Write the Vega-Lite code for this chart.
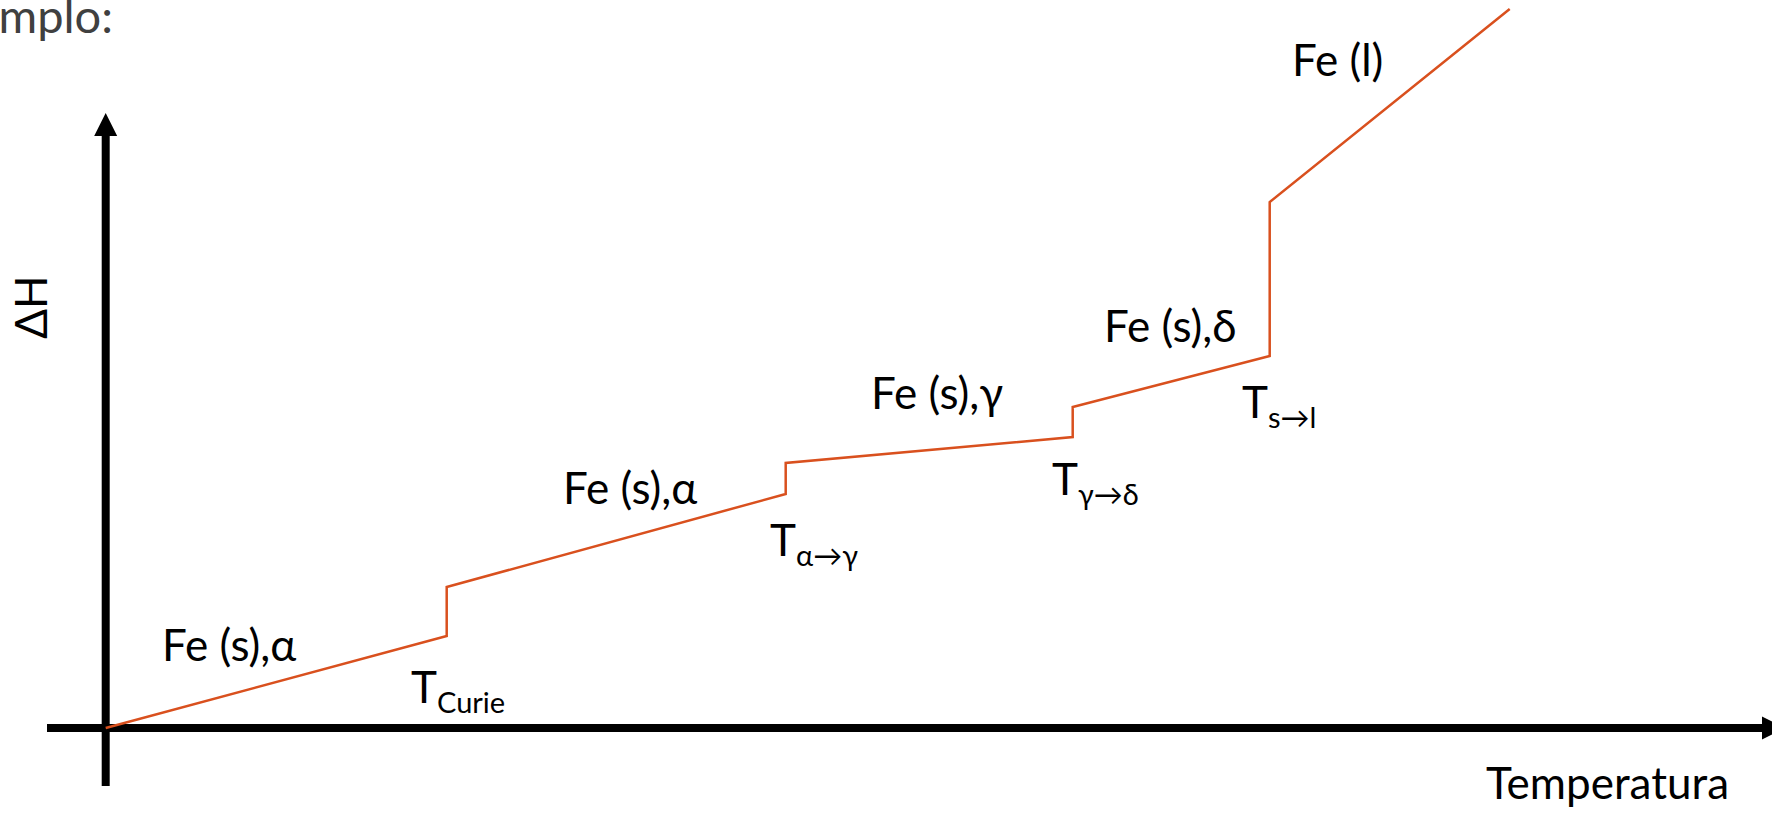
{
  "$schema": "https://vega.github.io/schema/vega-lite/v6.json",
  "width": 1772,
  "height": 813,
  "autosize": {"type": "none"},
  "padding": 0,
  "background": "white",
  "config": {"view": {"stroke": null}},
  "datasets": {
    "curve": [
      {"step": 1, "T": 0, "H": 0},
      {"step": 2, "T": 34.1, "H": 9.2},
      {"step": 3, "T": 34.1, "H": 14.1},
      {"step": 4, "T": 68.0, "H": 23.4},
      {"step": 5, "T": 68.0, "H": 26.5},
      {"step": 6, "T": 96.7, "H": 29.1},
      {"step": 7, "T": 96.7, "H": 32.1},
      {"step": 8, "T": 116.4, "H": 37.2},
      {"step": 9, "T": 116.4, "H": 52.6},
      {"step": 10, "T": 140.4, "H": 71.9}
    ],
    "axesLines": [
      {"T": -5.87, "T2": 165.9, "H": 0, "H2": 0},
      {"T": 0, "T2": 0, "H": -5.8, "H2": 59.8}
    ],
    "arrowHeads": [
      {"dir": "right", "T": 166.78, "H": 0},
      {"dir": "up", "T": 0, "H": 60.35}
    ],
    "phases": [
      {"label": "Fe (s),α", "T": 5.63, "H": 6.7},
      {"label": "Fe (s),α", "T": 45.73, "H": 22.4},
      {"label": "Fe (s),γ", "T": 76.53, "H": 31.9},
      {"label": "Fe (s),δ", "T": 99.83, "H": 38.6},
      {"label": "Fe (l)", "T": 118.63, "H": 65.2},
      {"label": "Temperatura", "T": 138.03, "H": -7.1}
    ],
    "transitions": [
      {"main": "T", "sub": "Curie", "T": 33.13, "H": 2.5},
      {"main": "T", "sub": "α→γ", "T": 69.03, "H": 17.2},
      {"main": "T", "sub": "γ→δ", "T": 97.23, "H": 23.3},
      {"main": "T", "sub": "s→l", "T": 116.23, "H": 31.0}
    ],
    "yTitle": [{"label": "ΔH", "T": -5.87, "H": 42.1}],
    "heading": [{"label": "mplo:", "T": 0.73, "H": 69.5}]
  },
  "encoding": {
    "x": {"field": "T", "type": "quantitative", "axis": null, "scale": {"domain": [-10.57, 166.63], "nice": false, "zero": false}},
    "y": {"field": "H", "type": "quantitative", "axis": null, "scale": {"domain": [-8.5, 72.8], "nice": false, "zero": false}}
  },
  "layer": [
    {
      "data": {"name": "axesLines"},
      "mark": {"type": "rule", "color": "black", "strokeWidth": 8},
      "encoding": {
        "x2": {"field": "T2"},
        "y2": {"field": "H2"}
      }
    },
    {
      "data": {"name": "arrowHeads"},
      "mark": {"type": "point", "filled": true, "color": "black", "opacity": 1, "size": 529, "strokeWidth": 0},
      "encoding": {
        "shape": {"field": "dir", "type": "nominal", "legend": null, "scale": {"domain": ["up", "right"], "range": ["M0,-1L1,1L-1,1Z", "M1,0L-1,1L-1,-1Z"]}}
      }
    },
    {
      "data": {"name": "curve"},
      "mark": {"type": "line", "color": "#D9501E", "strokeWidth": 2.5, "strokeJoin": "miter"},
      "encoding": {
        "order": {"field": "step", "type": "quantitative"}
      }
    },
    {
      "data": {"name": "phases"},
      "mark": {"type": "text", "font": "Lato", "fontSize": 44, "align": "left", "baseline": "alphabetic", "color": "black"},
      "encoding": {"text": {"field": "label"}}
    },
    {
      "data": {"name": "transitions"},
      "mark": {"type": "text", "font": "Lato", "fontSize": 44, "align": "right", "baseline": "alphabetic", "color": "black"},
      "encoding": {"text": {"field": "main"}}
    },
    {
      "data": {"name": "transitions"},
      "mark": {"type": "text", "font": "Lato", "fontSize": 29, "align": "left", "baseline": "alphabetic", "dy": 10, "color": "black"},
      "encoding": {"text": {"field": "sub"}}
    },
    {
      "data": {"name": "yTitle"},
      "mark": {"type": "text", "font": "Lato", "fontSize": 44, "align": "center", "baseline": "alphabetic", "angle": 270, "color": "black"},
      "encoding": {"text": {"field": "label"}}
    },
    {
      "data": {"name": "heading"},
      "mark": {"type": "text", "font": "Lato", "fontSize": 47, "align": "right", "baseline": "alphabetic", "color": "#404040"},
      "encoding": {"text": {"field": "label"}}
    }
  ]
}
